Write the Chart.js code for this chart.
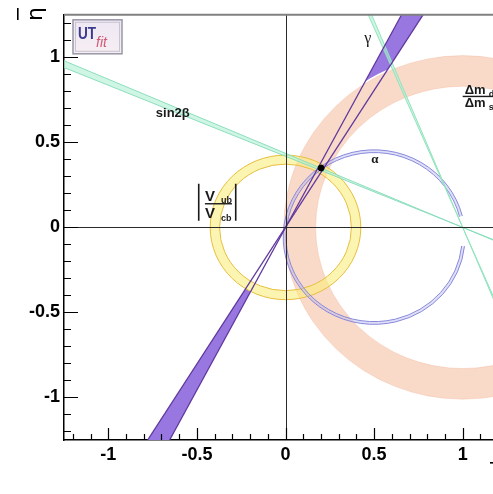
<!DOCTYPE html>
<html>
<head>
<meta charset="utf-8">
<script src="https://cdn.jsdelivr.net/npm/chart.js@4.4.1/dist/chart.umd.min.js"></script>
<style>
  html, body { margin: 0; padding: 0; background: #fff; overflow: hidden; }
  #wrap { width: 520px; height: 494px; }
</style>
</head>
<body>
<div id="wrap"><canvas id="ut" width="520" height="494"></canvas></div>
<script>
// axis ticks (rho-bar, eta-bar)
const rhoTicks = [-1, -0.5, 0, 0.5, 1];
const etaTicks = [-1, -0.5, 0, 0.5, 1];

// rings: centre rho, centre eta, inner radius, outer radius
const dmRing = [1.0, 0.0, 0.83, 1.01];
const vubRing = [0.0, 0.0, 0.372, 0.425];
const alphaRing = [0.5, -0.057, 0.497, 0.513];
const alphaGapDeg = [-6, 14]; // open part of the alpha circle

// sin2beta: two solutions, each a band of two lines through (1,0)
const sin2bShallowA = [[-1.25, 0.98], [1.25, -0.109]];
const sin2bShallowB = [[-1.25, 0.94], [1.25, -0.104]];
const sin2bSteepA = [[0.467, 1.25], [1.533, -1.25]];
const sin2bSteepB = [[0.486, 1.25], [1.514, -1.25]];

// gamma: wedge through the origin
const gammaA = [[-0.778, -1.25], [0.776, 1.25]];
const gammaB = [[-0.654, -1.25], [0.655, 1.25]];

// best fit apex
const apex = [[0.201, 0.349]];

const pts = arr => arr.map(p => ({ x: p[0], y: p[1] }));

function ellipsePath(ctx, sx, sy, c, r) {
  const ux = sx.getPixelForValue(1) - sx.getPixelForValue(0);
  const uy = sy.getPixelForValue(0) - sy.getPixelForValue(1);
  ctx.ellipse(sx.getPixelForValue(c[0]), sy.getPixelForValue(c[1]), r * ux, r * uy, 0, 0, Math.PI * 2);
}

function polyPath(ctx, sx, sy, list) {
  list.forEach((p, i) => {
    const px = sx.getPixelForValue(p[0]), py = sy.getPixelForValue(p[1]);
    if (i === 0) ctx.moveTo(px, py); else ctx.lineTo(px, py);
  });
  ctx.closePath();
}

function ring(ctx, sx, sy, r, fill, edge) {
  const c = [r[0], r[1]];
  ctx.beginPath();
  ellipsePath(ctx, sx, sy, c, r[3]);
  ellipsePath(ctx, sx, sy, c, r[2]);
  ctx.fillStyle = fill;
  ctx.fill('evenodd');
  if (edge) {
    ctx.strokeStyle = edge;
    ctx.lineWidth = 1;
    ctx.beginPath(); ellipsePath(ctx, sx, sy, c, r[3]); ctx.stroke();
    ctx.beginPath(); ellipsePath(ctx, sx, sy, c, r[2]); ctx.stroke();
  }
}

const utPlugin = {
  id: 'utfit',
  beforeDatasetsDraw(chart) {
    const { ctx, chartArea: a, scales: { x, y } } = chart;
    ctx.save();
    ctx.beginPath(); ctx.rect(a.left, a.top, a.width, a.height); ctx.clip();

    // dm_d / dm_s ring
    ring(ctx, x, y, dmRing, 'rgba(244,184,152,0.52)', 'rgba(238,170,140,0.3)');

    // gamma fill, only where not covered by the two rings
    ctx.save();
    ctx.beginPath(); ctx.rect(a.left, a.top, a.width, a.height);
    ellipsePath(ctx, x, y, [dmRing[0], dmRing[1]], dmRing[3] + 0.01); ctx.clip('evenodd');
    ctx.beginPath(); ctx.rect(a.left, a.top, a.width, a.height);
    ellipsePath(ctx, x, y, [vubRing[0], vubRing[1]], vubRing[3]); ctx.clip('evenodd');
    ctx.beginPath();
    polyPath(ctx, x, y, [gammaA[0], gammaA[1], gammaB[1], gammaB[0]]);
    ctx.fillStyle = 'rgb(152,120,224)';
    ctx.fill();
    ctx.restore();

    // |Vub/Vcb| ring
    ring(ctx, x, y, vubRing, 'rgba(250,236,125,0.6)', 'rgb(230,190,60)');

    // alpha ring (open near rho = 1)
    const ux = x.getPixelForValue(1) - x.getPixelForValue(0);
    const uy = y.getPixelForValue(0) - y.getPixelForValue(1);
    const cx = x.getPixelForValue(alphaRing[0]), cy = y.getPixelForValue(alphaRing[1]);
    const t1 = -alphaGapDeg[1] * Math.PI / 180, t2 = -(360 + alphaGapDeg[0]) * Math.PI / 180;
    ctx.beginPath();
    ctx.ellipse(cx, cy, alphaRing[3] * ux, alphaRing[3] * uy, 0, t1, t2, true);
    ctx.ellipse(cx, cy, alphaRing[2] * ux, alphaRing[2] * uy, 0, t2, t1, false);
    ctx.closePath();
    ctx.fillStyle = 'rgba(175,175,238,0.4)';
    ctx.fill();
    ctx.strokeStyle = 'rgb(136,136,220)';
    ctx.lineWidth = 1;
    [alphaRing[2], alphaRing[3]].forEach(r => {
      ctx.beginPath();
      ctx.ellipse(cx, cy, r * ux, r * uy, 0, t1, t2, true);
      ctx.stroke();
    });

    // sin2beta band fills
    ctx.fillStyle = 'rgba(175,238,212,0.6)';
    ctx.beginPath();
    polyPath(ctx, x, y, [sin2bShallowA[0], sin2bShallowA[1], sin2bShallowB[1], sin2bShallowB[0]]);
    ctx.fill();
    ctx.beginPath();
    polyPath(ctx, x, y, [sin2bSteepA[0], sin2bSteepA[1], sin2bSteepB[1], sin2bSteepB[0]]);
    ctx.fill();
    ctx.restore();
  },
  afterDatasetsDraw(chart) {
    const { ctx, chartArea: a, scales: { x, y } } = chart;
    ctx.save();
    ctx.strokeStyle = '#2a2a2a';
    ctx.lineWidth = 1;
    const x0 = Math.round(x.getPixelForValue(0)) + 0.5;
    const y0 = Math.round(y.getPixelForValue(0)) + 0.5;
    ctx.beginPath();
    ctx.moveTo(x0, a.top); ctx.lineTo(x0, a.bottom);
    ctx.moveTo(a.left, y0); ctx.lineTo(a.right, y0);
    ctx.stroke();
    ctx.restore();
  },
  afterDraw(chart) {
    const { ctx, chartArea: a, scales: { x, y } } = chart;
    ctx.save();

    // top frame
    ctx.strokeStyle = '#808080';
    ctx.lineWidth = 2;
    ctx.beginPath(); ctx.moveTo(a.left, a.top); ctx.lineTo(a.right, a.top); ctx.stroke();

    // inner ticks every 0.1
    ctx.strokeStyle = '#000';
    ctx.lineWidth = 1.2;
    ctx.beginPath();
    for (let k = -12; k <= 12; k++) {
      const v = k / 10;
      const major = k % 5 === 0;
      const px = Math.round(x.getPixelForValue(v)) + 0.5;
      ctx.moveTo(px, a.bottom); ctx.lineTo(px, a.bottom - (major ? 12 : 6));
      const py = Math.round(y.getPixelForValue(v)) + 0.5;
      ctx.moveTo(a.left, py); ctx.lineTo(a.left + (major ? 14 : 7), py);
    }
    ctx.stroke();

    const P = (r, e) => [x.getPixelForValue(r), y.getPixelForValue(e)];
    ctx.fillStyle = '#1a1a1a';
    ctx.textBaseline = 'middle';
    ctx.textAlign = 'center';

    // sin2beta
    let p = P(-0.636, 0.672);
    ctx.font = 'bold 13px "Liberation Sans"';
    ctx.fillText('sin2β', p[0], p[1]);

    // gamma
    p = P(0.465, 1.11);
    ctx.font = '16px "Liberation Serif"';
    ctx.fillText('γ', p[0], p[1]);

    // alpha
    p = P(0.505, 0.401);
    ctx.font = 'bold 13px "Liberation Serif"';
    ctx.fillText('α', p[0], p[1]);

    // |Vub / Vcb|
    p = P(-0.387, 0.139);
    ctx.textBaseline = 'alphabetic';
    ctx.textAlign = 'left';
    ctx.fillRect(p[0] - 19, p[1] - 20, 1.6, 37);
    ctx.fillRect(p[0] + 18, p[1] - 20, 1.6, 37);
    ctx.fillRect(p[0] - 12, p[1] - 0.7, 27, 1.4);
    ctx.font = 'bold 15px "Liberation Sans"';
    ctx.fillText('V', p[0] - 12, p[1] - 3);
    ctx.fillText('V', p[0] - 12, p[1] + 14);
    ctx.font = 'bold 9px "Liberation Sans"';
    ctx.fillText('ub', p[0] + 4, p[1] - 1);
    ctx.fillText('cb', p[0] + 4, p[1] + 17);

    // dm_d / dm_s
    p = P(1.0, 0.77);
    ctx.fillRect(p[0], p[1] - 0.7, 40, 1.4);
    ctx.font = 'bold 13px "Liberation Sans"';
    ctx.fillText('Δm', p[0] + 2, p[1] - 2);
    ctx.fillText('Δm', p[0] + 2, p[1] + 11);
    ctx.font = 'bold 9px "Liberation Sans"';
    ctx.fillText('d', p[0] + 26, p[1] + 1);
    ctx.fillText('s', p[0] + 26, p[1] + 14);

    // UTfit logo
    const lx = a.left + 9, ly = a.top + 5;
    const g = ctx.createLinearGradient(lx, ly, lx, ly + 34);
    g.addColorStop(0, '#eee8f4');
    g.addColorStop(1, '#f6eef2');
    ctx.fillStyle = g;
    ctx.fillRect(lx, ly, 49, 34);
    ctx.strokeStyle = '#9a98a8';
    ctx.lineWidth = 1.5;
    ctx.strokeRect(lx, ly, 49, 34);
    ctx.strokeStyle = '#c8c4d0';
    ctx.lineWidth = 1;
    ctx.strokeRect(lx + 2.5, ly + 2.5, 44, 29);
    ctx.save();
    ctx.translate(lx + 5, ly + 19);
    ctx.scale(0.8, 1);
    ctx.font = 'bold 17px "Liberation Sans"';
    ctx.fillStyle = '#3b3b8e';
    ctx.fillText('UT', 0, 0);
    ctx.restore();
    ctx.font = 'italic 14px "Liberation Sans"';
    ctx.fillStyle = '#d25a78';
    ctx.fillText('fit', lx + 23, ly + 27);

    // axis titles
    ctx.fillStyle = '#000';
    ctx.save();
    ctx.translate(42, 14);
    ctx.rotate(-Math.PI / 2);
    ctx.textAlign = 'center';
    ctx.font = '22px "DejaVu Sans"';
    ctx.fillText('η', 0, 0);
    ctx.fillRect(-6, -25, 12, 1.6);
    ctx.restore();
    ctx.font = '22px "DejaVu Sans"';
    ctx.textAlign = 'left';
    ctx.fillText('ρ', 492, 486);
    ctx.fillRect(490, 462, 10, 1.6);

    ctx.restore();
  }
};

const lineStyle = (color, w) => ({
  showLine: true, borderColor: color, borderWidth: w, pointRadius: 0, fill: false
});

new Chart(document.getElementById('ut'), {
  type: 'scatter',
  data: {
    datasets: [
      { data: pts(apex), pointRadius: 3, backgroundColor: '#000', borderColor: '#000' },
      Object.assign({ data: pts(gammaA) }, lineStyle('rgb(96,56,156)', 1.3)),
      Object.assign({ data: pts(gammaB) }, lineStyle('rgb(96,56,156)', 1.3)),
      Object.assign({ data: pts(sin2bShallowA) }, lineStyle('rgb(140,222,190)', 1)),
      Object.assign({ data: pts(sin2bShallowB) }, lineStyle('rgb(140,222,190)', 1)),
      Object.assign({ data: pts(sin2bSteepA) }, lineStyle('rgb(145,228,188)', 1)),
      Object.assign({ data: pts(sin2bSteepB) }, lineStyle('rgb(145,228,188)', 1))
    ]
  },
  options: {
    responsive: false,
    animation: false,
    layout: { padding: { top: 8, right: 13, left: 0, bottom: 0 } },
    plugins: { legend: { display: false }, tooltip: { enabled: false } },
    scales: {
      x: {
        type: 'linear', min: -1.25, max: 1.25,
        afterBuildTicks: s => { s.ticks = rhoTicks.map(v => ({ value: v })); },
        afterFit: s => { s.height = 54; },
        grid: { display: false, drawTicks: false },
        border: { display: true, color: '#000', width: 1.5 },
        ticks: {
          padding: 4, color: '#000', maxRotation: 0,
          font: { family: 'Liberation Sans', size: 18, weight: 'bold' },
          callback: v => String(v)
        }
      },
      y: {
        type: 'linear', min: -1.25, max: 1.25,
        afterBuildTicks: s => { s.ticks = etaTicks.map(v => ({ value: v })); },
        afterFit: s => { s.width = 64; },
        grid: { display: false, drawTicks: false },
        border: { display: true, color: '#000', width: 1.5 },
        ticks: {
          padding: 4, color: '#000',
          font: { family: 'Liberation Sans', size: 18, weight: 'bold' },
          callback: v => String(v)
        }
      }
    }
  },
  plugins: [utPlugin]
});
</script>
</body>
</html>
